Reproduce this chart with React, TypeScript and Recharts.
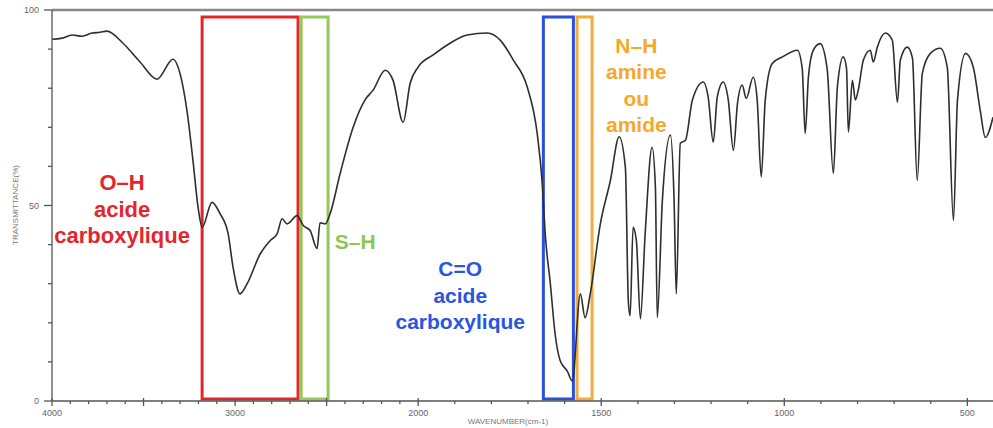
import React from 'react';
import { LineChart, Line, XAxis, YAxis, ReferenceArea, ReferenceLine, ReferenceDot } from 'recharts';

// wavenumber (cm-1) and transmittance (%)
const wavenumbers = [
  4000, 3945, 3890, 3836, 3781, 3738, 3700, 3612, 3519, 3426, 3339, 3301, 3262, 3230, 3202, 3180,
  3126, 3082, 3038, 3011, 2973, 2934, 2863, 2809, 2770, 2743, 2716, 2661, 2628, 2590, 2552, 2536,
  2508, 2481, 2426, 2355, 2290, 2246, 2180, 2137, 2082, 2044, 2000, 1959, 1913, 1866, 1811, 1776,
  1740, 1702, 1675, 1661, 1653, 1639, 1626, 1612, 1593, 1579, 1557, 1544, 1530, 1503, 1475, 1451,
  1434, 1426, 1421, 1413, 1404, 1393, 1380, 1361, 1352, 1347, 1333, 1311, 1301, 1295, 1284, 1270,
  1251, 1221, 1208, 1194, 1183, 1167, 1153, 1139, 1128, 1115, 1104, 1085, 1074, 1063, 1052, 1033,
  1005, 964, 951, 943, 934, 921, 902, 883, 866, 855, 839, 830, 825, 814, 806, 798,
  784, 765, 757, 746, 724, 705, 691, 683, 664, 650, 637, 623, 601, 574, 555, 538,
  527, 505, 484, 465, 451, 430,
];
const transmittance = [
  92.5, 92.8, 93.6, 93.3, 94.1, 94.3, 94.6, 91.5, 86.7, 82.3, 87.4, 83.8, 74, 61.5, 49.5, 44.4,
  50.8, 47.9, 42.8, 34.2, 27.4, 30, 37.6, 41, 42.8, 46.6, 45.3, 47.4, 44.9, 43.6, 39, 45.6,
  45.3, 47.9, 58.2, 70, 77, 79.5, 84.6, 82, 71.3, 81.2, 85.4, 88.5, 91.5, 93.6, 94.1, 92.3,
  87.2, 80.3, 68.5, 55.6, 42.8, 30, 17.2, 10.3, 7.7, 5.1, 27.4, 21.3, 27.4, 45, 56.4, 67.6,
  59.7, 25.6, 21.8, 44.4, 41, 21, 42.8, 64.9, 54.6, 21.3, 51.3, 68, 51.3, 27.4, 65.9, 66.7,
  77, 81.6, 77.8, 66.2, 77.8, 81.6, 77, 64.1, 76, 80.8, 77.4, 82.8, 77, 57.3, 77, 86.3,
  88, 89.7, 85, 68.4, 83, 89.7, 91.4, 85, 58.2, 80.3, 88, 85, 68.8, 82, 77, 79.5,
  87.2, 89.7, 86.7, 90.5, 94.1, 92.3, 76.4, 87.2, 90.5, 87.7, 56.4, 83.8, 88.9, 90.2, 85.4, 46.2,
  77, 88.9, 85.4, 74.4, 67.4, 72.6,
];

const xTickValues = [4000, 3900, 3800, 3700, 3600, 3500, 3400, 3300, 3200, 3100, 3000, 2900, 2800, 2700, 2600, 2500,
  2400, 2300, 2200, 2100, 2000, 1900, 1800, 1700, 1600, 1500, 1400, 1300, 1200, 1100, 1000, 900, 800, 700, 600, 500];
const xTickLabels = [4000, 3000, 2000, 1500, 1000, 500];
const xMajor = [4000, 3500, 3000, 2500, 2000, 1500, 1000, 500];
const yTickValues = [0, 10, 20, 30, 40, 50, 60, 70, 80, 90, 100];
const yTickLabels = [0, 50, 100];

const bands = [
  { name: 'O-H', from: 3180, to: 2656, color: '#e3262c' },
  { name: 'S-H', from: 2639, to: 2492, color: '#93c95a' },
  { name: 'C=O', from: 1658, to: 1576, color: '#2b4fd8' },
  { name: 'N-H', from: 1566, to: 1525, color: '#f3ab3c' },
];

const bandLabels = [
  { lines: ['O–H', 'acide', 'carboxylique'], w: 3617, t: 49.1, color: '#e5252b', size: 22 },
  { lines: ['S–H'], w: 2344, t: 40.7, color: '#8fc653', size: 21 },
  { lines: ['C=O', 'acide', 'carboxylique'], w: 1885, t: 27.1, color: '#2a55e0', size: 21 },
  { lines: ['N–H', 'amine', 'ou', 'amide'], w: 1404, t: 80.8, color: '#f4a82c', size: 21 },
];

// the chart is expanded 2x below 2000 cm-1
const toAxis = (w: number) => (w >= 2000 ? 4000 - w : 2000 + 2 * (2000 - w));
const fromAxis = (u: number) => (u <= 2000 ? 4000 - u : 2000 - (u - 2000) / 2);
const X_END = 430;

const data = wavenumbers.map((w, i) => ({ pos: toAxis(w), t: transmittance[i] }));

const XTick = (props: any) => {
  const { x, y, payload } = props;
  const w = Math.round(fromAxis(payload.value));
  const major = xMajor.includes(w);
  return (
    <g>
      <line x1={x} x2={x} y1={major ? y - 3 : y} y2={major ? y + 5 : y + 3} stroke="#555" strokeWidth={1.3} />
      {xTickLabels.includes(w) && (
        <text x={x} y={y + 15} textAnchor="middle" fontSize={9} fill="#666" fontFamily="Liberation Sans, Arial">
          {w}
        </text>
      )}
    </g>
  );
};

const YTick = (props: any) => {
  const { x, y, payload } = props;
  const v = payload.value;
  const major = yTickLabels.includes(v);
  return (
    <g>
      <line x1={major ? x - 8 : x - 4} x2={x} y1={y} y2={y} stroke="#555" strokeWidth={1.3} />
      {major && (
        <text x={x - 13} y={y + 3} textAnchor="end" fontSize={9} fill="#666" fontFamily="Liberation Sans, Arial">
          {v}
        </text>
      )}
    </g>
  );
};

const makeLabelShape = (lines: string[], color: string, size: number) => (props: any) => {
  const { cx, cy } = props;
  const gap = 26.5;
  const start = cy - ((lines.length - 1) * gap) / 2;
  return (
    <text
      x={cx}
      textAnchor="middle"
      fill={color}
      fontSize={size}
      fontWeight="bold"
      fontFamily="Liberation Sans, Arial, sans-serif"
    >
      {lines.map((l, i) => (
        <tspan key={i} x={cx} y={start + i * gap} dominantBaseline="central">
          {l}
        </tspan>
      ))}
    </text>
  );
};

export default function App() {
  return (
    <div style={{ width: 993, height: 428, position: 'relative', background: '#fff' }}>
      <style>{'body{margin:0}'}</style>
      <LineChart width={993} height={428} data={data} margin={{ top: 10, right: 0, bottom: 0, left: 0 }}>
        <XAxis
          dataKey="pos"
          type="number"
          domain={[0, toAxis(X_END)]}
          ticks={xTickValues.map(toAxis)}
          interval={0}
          height={27}
          tickSize={0}
          tickMargin={0}
          tickLine={false}
          tick={<XTick />}
          axisLine={{ stroke: '#555', strokeWidth: 1.3 }}
          allowDataOverflow
        />
        <YAxis
          type="number"
          domain={[0, 100]}
          ticks={yTickValues}
          interval={0}
          width={52}
          tickSize={0}
          tickMargin={0}
          tickLine={false}
          tick={<YTick />}
          axisLine={{ stroke: '#555', strokeWidth: 1.3 }}
        />
        <ReferenceLine y={100} stroke="#888" strokeWidth={2.5} />
        {bands.map((b) => (
          <ReferenceArea
            key={b.name}
            x1={toAxis(b.from)}
            x2={toAxis(b.to)}
            y1={0.5}
            y2={98.2}
            fill="none"
            stroke={b.color}
            strokeWidth={3}
            ifOverflow="visible"
          />
        ))}
        <Line
          type="monotone"
          dataKey="t"
          stroke="#2e2e2e"
          strokeWidth={1.6}
          dot={false}
          isAnimationActive={false}
        />
        {bandLabels.map((l) => (
          <ReferenceDot
            key={l.lines[0]}
            x={toAxis(l.w)}
            y={l.t}
            r={1}
            shape={makeLabelShape(l.lines, l.color, l.size)}
            ifOverflow="visible"
          />
        ))}
      </LineChart>
      <div
        style={{
          position: 'absolute',
          left: 15,
          top: 205,
          transform: 'translate(-50%, -50%) rotate(-90deg)',
          fontSize: 8,
          color: '#777',
          fontFamily: 'Liberation Sans, Arial',
          whiteSpace: 'nowrap',
        }}
      >
        TRANSMITTANCE(%)
      </div>
      <div
        style={{
          position: 'absolute',
          left: 508,
          top: 421,
          transform: 'translate(-50%, -50%)',
          fontSize: 8,
          lineHeight: '9px',
          color: '#777',
          fontFamily: 'Liberation Sans, Arial',
          whiteSpace: 'nowrap',
        }}
      >
        WAVENUMBER(cm-1)
      </div>
    </div>
  );
}
